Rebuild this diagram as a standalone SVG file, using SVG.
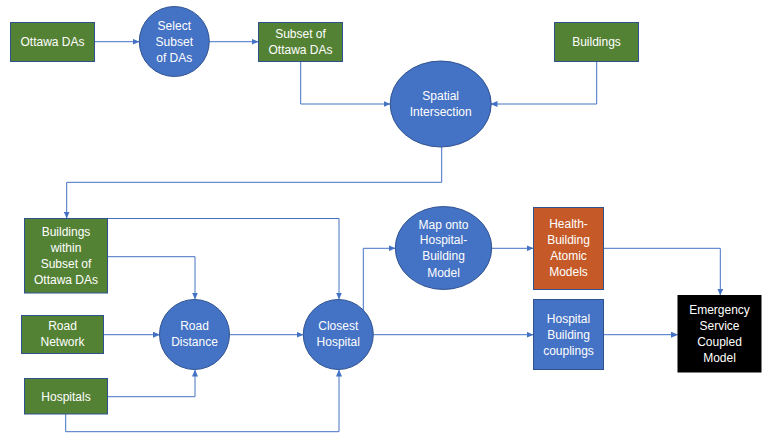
<svg xmlns="http://www.w3.org/2000/svg" width="775" height="442" viewBox="0 0 775 442">
<style>
.g{fill:#548235;stroke:#2F528F;stroke-width:1}
.b{fill:#4472C4;stroke:#2F528F;stroke-width:1}
.o{fill:#C55A28;stroke:#2F528F;stroke-width:1}
.k{fill:#000000}
.t{font-family:"Liberation Sans",Arial,sans-serif;font-size:12px;fill:#ffffff;text-anchor:middle}
.c{fill:none;stroke:#4472C4;stroke-width:1;marker-end:url(#ah)}
</style>
<defs>
<marker id="ah" markerWidth="7" markerHeight="6" refX="6.5" refY="3" orient="auto" markerUnits="userSpaceOnUse">
<path d="M0,0 L7,3 L0,6 Z" fill="#4472C4"/>
</marker>
</defs>
<rect width="775" height="442" fill="#ffffff"/>
<g id="connectors">
<path class="c" d="M95,41.7 H139"/>
<path class="c" d="M209.5,41.7 H258"/>
<path class="c" d="M300.7,61.5 V104 H390"/>
<path class="c" d="M596.7,61.5 V104 H491"/>
<path class="c" d="M441.7,147 V182.3 H66.7 V218"/>
<path class="c" d="M107.5,218.5 H339 V299"/>
<path class="c" d="M107.5,256.7 H195 V299"/>
<path class="c" d="M104,334.7 H159.5"/>
<path class="c" d="M107.5,396.7 H195 V370"/>
<path class="c" d="M65.7,414 V431.7 H339 V370"/>
<path class="c" d="M229.5,334.7 H303"/>
<path class="c" d="M363.3,310 V248.3 H395"/>
<path class="c" d="M491.7,248.3 H533"/>
<path class="c" d="M603.5,248.3 H720.3 V295"/>
<path class="c" d="M373.5,334.7 H533"/>
<path class="c" d="M603.5,334.7 H677.5"/>
</g>
<g id="ottawa-das">
<rect class="g" x="10.5" y="22.5" width="84" height="39"/>
<text class="t" x="52.5" y="46">Ottawa DAs</text>
</g>
<g id="select-subset">
<circle class="b" cx="174.3" cy="41.5" r="35"/>
<text class="t" x="174.3" y="29.6">Select</text>
<text class="t" x="174.3" y="46">Subset</text>
<text class="t" x="174.3" y="61.6">of DAs</text>
</g>
<g id="subset-ottawa-das">
<rect class="g" x="258.5" y="22.5" width="84" height="39"/>
<text class="t" x="300.5" y="38">Subset of</text>
<text class="t" x="300.5" y="53.6">Ottawa DAs</text>
</g>
<g id="buildings">
<rect class="g" x="554.5" y="22.5" width="84" height="39"/>
<text class="t" x="596.5" y="46">Buildings</text>
</g>
<g id="spatial-intersection">
<ellipse class="b" cx="440.7" cy="104" rx="50.5" ry="43"/>
<text class="t" x="440.7" y="100">Spatial</text>
<text class="t" x="440.7" y="115.6">Intersection</text>
</g>
<g id="buildings-within">
<rect class="g" x="24.5" y="218.5" width="83" height="74.5"/>
<text class="t" x="66" y="236">Buildings</text>
<text class="t" x="66" y="251.6">within</text>
<text class="t" x="66" y="267.6">Subset of</text>
<text class="t" x="66" y="284">Ottawa DAs</text>
</g>
<g id="road-network">
<rect class="g" x="21.5" y="315.5" width="82" height="38"/>
<text class="t" x="62.5" y="330">Road</text>
<text class="t" x="62.5" y="345.6">Network</text>
</g>
<g id="hospitals">
<rect class="g" x="24.5" y="378.5" width="83" height="35.5"/>
<text class="t" x="66" y="401">Hospitals</text>
</g>
<g id="road-distance">
<circle class="b" cx="194.5" cy="334.5" r="35"/>
<text class="t" x="194.5" y="330">Road</text>
<text class="t" x="194.5" y="345.6">Distance</text>
</g>
<g id="closest-hospital">
<circle class="b" cx="338.3" cy="334.5" r="35"/>
<text class="t" x="338.3" y="330">Closest</text>
<text class="t" x="338.3" y="345.6">Hospital</text>
</g>
<g id="map-onto">
<ellipse class="b" cx="443.5" cy="248" rx="48.2" ry="41.5"/>
<text class="t" x="443.5" y="228.6">Map onto</text>
<text class="t" x="443.5" y="244.3">Hospital-</text>
<text class="t" x="443.5" y="260.3">Building</text>
<text class="t" x="443.5" y="277">Model</text>
</g>
<g id="health-building">
<rect class="o" x="533.5" y="207.5" width="70" height="82"/>
<text class="t" x="568.5" y="227.6">Health-</text>
<text class="t" x="568.5" y="243.6">Building</text>
<text class="t" x="568.5" y="259.6">Atomic</text>
<text class="t" x="568.5" y="276">Models</text>
</g>
<g id="hospital-building-couplings">
<rect class="b" x="533.5" y="299.5" width="70" height="70"/>
<text class="t" x="568.5" y="322.6">Hospital</text>
<text class="t" x="568.5" y="339">Building</text>
<text class="t" x="568.5" y="355">couplings</text>
</g>
<g id="emergency-service">
<rect class="k" x="677.5" y="295" width="84" height="77.5"/>
<text class="t" x="719.5" y="313.6">Emergency</text>
<text class="t" x="719.5" y="330">Service</text>
<text class="t" x="719.5" y="345.6">Coupled</text>
<text class="t" x="719.5" y="362">Model</text>
</g>
</svg>
